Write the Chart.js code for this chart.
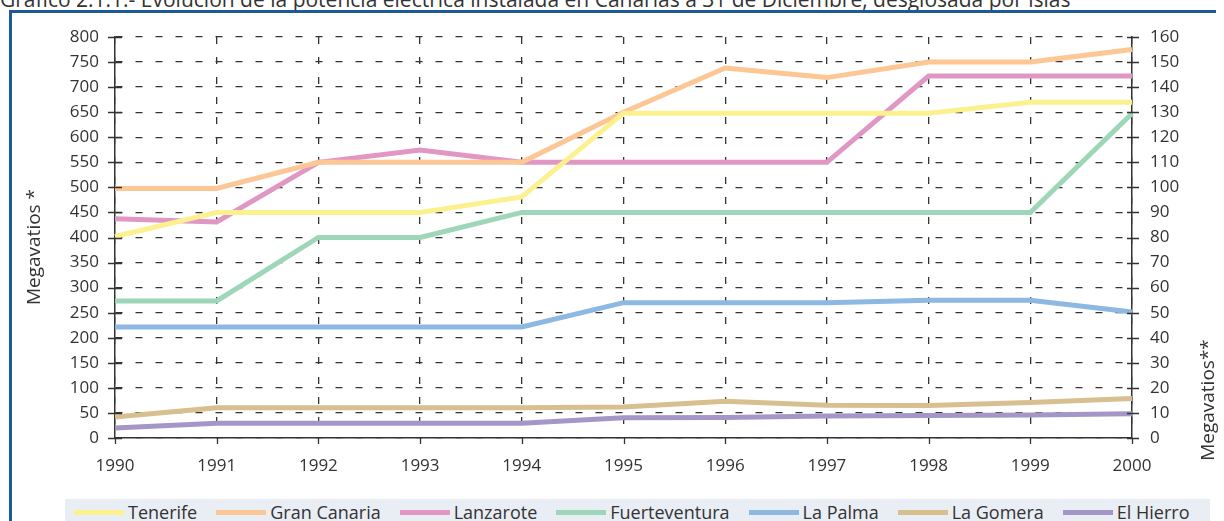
<!DOCTYPE html>
<html>
<head>
<meta charset="utf-8">
<script src="https://cdn.jsdelivr.net/npm/chart.js@4.4.1/dist/chart.umd.min.js"></script>
<style>
  body { margin: 0; background: #fff; width: 1224px; height: 521px; overflow: hidden; position: relative; font-family: 'Open Sans', sans-serif; }
  #title { position: absolute; left: 0px; top: -15px; font-size: 21px; color: #333; white-space: nowrap; }
  #frameTop { position: absolute; left: 9px; top: 10px; width: 1207px; height: 3px; background: #1d5a98; }
  #frameLeft { position: absolute; left: 9px; top: 10px; width: 3px; height: 520px; background: #1d5a98; }
  #wrap { position: absolute; left: 0; top: 0; width: 1224px; height: 500px; }
  #legend { position: absolute; left: 65px; top: 499px; width: 1145px; height: 26px; background: #e9edf4; display: flex; align-items: center; padding-left: 9px; box-sizing: border-box; }
  .item { display: flex; align-items: center; margin-right: 19px; font-size: 18px; line-height: 20px; color: #333; }
  .swatch { width: 50px; height: 5px; margin-right: 4px; }
</style>
</head>
<body>
<div id="title">Gráfico 2.1.1.- Evolución de la potencia eléctrica instalada en Canarias a 31 de Diciembre, desglosada por islas</div>
<div id="frameTop"></div>
<div id="frameLeft"></div>
<div id="wrap"><canvas id="chart" width="1224" height="500"></canvas></div>
<div id="legend"></div>
<script>
// years on the x axis
var years = ['1990', '1991', '1992', '1993', '1994', '1995', '1996', '1997', '1998', '1999', '2000'];

// left axis (Megavatios *)
var tenerife = [402, 450, 450, 450, 481, 648, 648, 648, 648, 670, 670];
var granCanaria = [498, 498, 550, 550, 550, 650, 738, 719, 750, 750, 775];

// right axis (Megavatios**)
var lanzarote = [87.5, 86.2, 110, 114.9, 110, 110, 110, 110, 144.4, 144.4, 144.4];
var fuerteventura = [54.7, 54.7, 80, 80, 90, 90, 90, 90, 90, 90, 129.5];
var laPalma = [44.3, 44.3, 44.3, 44.3, 44.3, 54, 54, 54, 55, 55, 50.3];
var laGomera = [8.4, 12.1, 12.1, 12.1, 12.1, 12.4, 14.7, 13.1, 13, 14.2, 15.8];
var elHierro = [4, 5.9, 5.9, 5.9, 5.9, 8.1, 8.2, 8.8, 9, 9.2, 9.7];

var leftMax = 800, leftStep = 50;
var rightMax = 160, rightStep = 10;

var seriesNames = ['Tenerife', 'Gran Canaria', 'Lanzarote', 'Fuerteventura', 'La Palma', 'La Gomera', 'El Hierro'];
var seriesData = [tenerife, granCanaria, lanzarote, fuerteventura, laPalma, laGomera, elHierro];
var seriesAxis = ['yL', 'yL', 'yR', 'yR', 'yR', 'yR', 'yR'];
var colors = ['#fdf18f', '#fdc695', '#e197c4', '#9dd6b9', '#8db8e2', '#d8bf8f', '#a497c7'];

var datasets = [];
for (var i = 0; i < seriesNames.length; i++) {
    datasets.push({
        label: seriesNames[i],
        data: seriesData[i],
        yAxisID: seriesAxis[i],
        borderColor: colors[i],
        backgroundColor: colors[i],
        borderWidth: 5,
        pointRadius: 0,
        tension: 0,
        fill: false
    });
}

// html legend
var legend = document.getElementById('legend');
for (var i = 0; i < seriesNames.length; i++) {
    var item = document.createElement('div');
    item.className = 'item';
    var sw = document.createElement('span');
    sw.className = 'swatch';
    sw.style.background = colors[i];
    item.appendChild(sw);
    item.appendChild(document.createTextNode(seriesNames[i]));
    legend.appendChild(item);
}

var tickFont = { family: "'Open Sans', sans-serif", size: 17 };

// tick marks crossing the axes and the rotated axis titles
var extras = {
    id: 'extras',
    afterDraw: function(chart) {
        var ctx = chart.ctx;
        var a = chart.chartArea;
        var yL = chart.scales.yL, yR = chart.scales.yR, x = chart.scales.x;
        ctx.save();
        ctx.strokeStyle = '#333';
        ctx.lineWidth = 1.3;
        ctx.beginPath();
        yL.ticks.forEach(function(t) {
            var py = Math.round(yL.getPixelForValue(t.value)) + 0.5;
            ctx.moveTo(a.left - 7, py); ctx.lineTo(a.left + 7, py);
        });
        yR.ticks.forEach(function(t) {
            var py = Math.round(yR.getPixelForValue(t.value)) + 0.5;
            ctx.moveTo(a.right - 5, py); ctx.lineTo(a.right + 7, py);
        });
        for (var k = 0; k < years.length; k++) {
            var px = Math.round(x.getPixelForValue(k)) + 0.5;
            ctx.moveTo(px, a.bottom); ctx.lineTo(px, a.bottom + 6);
        }
        ctx.stroke();

        ctx.fillStyle = '#333';
        ctx.font = "19px 'Open Sans', sans-serif";
        ctx.textAlign = 'center';
        ctx.textBaseline = 'middle';
        ctx.translate(35, 247);
        ctx.rotate(-Math.PI / 2);
        ctx.fillText('Megavatios *', 0, 0);
        ctx.restore();

        ctx.save();
        ctx.fillStyle = '#333';
        ctx.font = "19px 'Open Sans', sans-serif";
        ctx.textAlign = 'center';
        ctx.textBaseline = 'middle';
        ctx.translate(1209, 400);
        ctx.rotate(-Math.PI / 2);
        ctx.fillText('Megavatios**', 0, 0);
        ctx.restore();
    }
};

var ctx = document.getElementById('chart').getContext('2d');
var myChart = new Chart(ctx, {
    type: 'line',
    data: {
        labels: years,
        datasets: datasets
    },
    options: {
        responsive: false,
        animation: false,
        layout: { padding: { top: 37, left: 0, right: 0, bottom: 0 } },
        scales: {
            x: {
                offset: false,
                afterFit: function(s) { s.height = 62; },
                grid: { color: '#333', lineWidth: 1.3, drawTicks: false },
                border: { display: true, color: '#333', width: 1.5, dash: [7, 13], dashOffset: 0 },
                ticks: { color: '#333', font: tickFont, padding: 18, maxRotation: 0, autoSkip: false }
            },
            yL: {
                position: 'left',
                min: 0,
                max: leftMax,
                afterFit: function(s) { s.width = 115; },
                grid: { color: '#333', lineWidth: 1.3, drawTicks: false },
                border: { display: true, color: '#333', width: 1.5, dash: [7, 13] },
                ticks: { stepSize: leftStep, color: '#333', font: tickFont, padding: 16 }
            },
            yR: {
                position: 'right',
                min: 0,
                max: rightMax,
                afterFit: function(s) { s.width = 92; },
                grid: { display: false, drawTicks: false },
                border: { display: true, color: '#333', width: 1.5 },
                ticks: { stepSize: rightStep, color: '#333', font: tickFont, padding: 18 }
            }
        },
        plugins: {
            legend: { display: false },
            tooltip: { enabled: false }
        }
    },
    plugins: [extras]
});
</script>
</body>
</html>
